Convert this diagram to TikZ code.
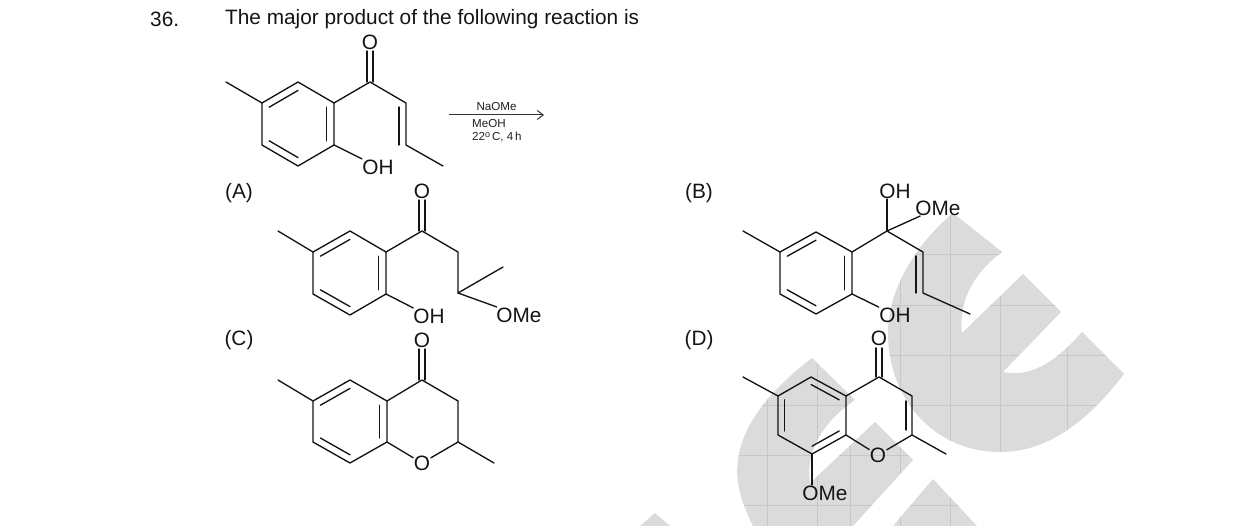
\documentclass[tikz,border=0pt]{standalone}
\usepackage{fontspec}
\setmainfont{Liberation Sans}
\usetikzlibrary{calc,arrows.meta}
\newcommand{\inbond}[3]{\draw[bondline] ($(#1)!.2!(#3)$) -- ($(#2)!.2!(#3)$);}
\newcommand{\wmpaths}{
  (953,213) -- (1002,252) .. controls (975,272) and (958,300) .. (962,333)
  -- (1023,274) -- (1061,312) -- (1003,372) .. controls (1033,378) and (1057,360) .. (1082,332)
  -- (1124,374) .. controls (1085,425) and (1045,452) .. (1000,452)
  .. controls (935,452) and (888,400) .. (888,333)
  .. controls (888,290) and (915,245) .. (953,213) -- cycle
  (812,358) -- (855,400) .. controls (825,420) and (805,450) .. (810,483)
  -- (875,422) -- (913,460) -- (853,526) -- (893,526) -- (933,479) -- (977,526) -- (753,526)
  .. controls (740,500) and (735,480) .. (738,460)
  .. controls (742,425) and (770,390) .. (812,358) -- cycle
  (655,513) -- (670,526) -- (640,526) -- cycle
}
\tikzset{
  x=1pt,y=-1pt,
  bondline/.style={line width=1.35pt,black!92,line cap=round,line join=round},
  atom/.style={inner sep=0.5pt,yshift=-1pt,font=\fontsize{20.8}{22}\selectfont,text=black!92},
  qtext/.style={inner sep=0pt,yshift=-1pt,font=\fontsize{20.8}{24}\selectfont,text=black!92},
  smalltext/.style={inner sep=0pt,yshift=-0.5pt,font=\fontsize{11.6}{13}\selectfont,text=black!88},
  gridline/.style={line width=1pt,black!22},
  wmfill/.style={fill=black!14,draw=none},
  >={Straight Barb[length=6pt,width=9pt]}
}
\begin{document}
\begin{tikzpicture}
\useasboundingbox (0,0) rectangle (1238,526);
% watermark
\fill[wmfill] \wmpaths;
\begin{scope}
\clip \wmpaths;
\foreach \gx in {767,817,850,900,950,1000,1067}{\draw[gridline] (\gx,200) -- (\gx,526);}
\foreach \gy in {255,305,355,405,455,505}{\draw[gridline] (640,\gy) -- (1130,\gy);}
\end{scope}
% heading
\node[qtext,anchor=west] (num) at (150,18) {36.};
\node[qtext,anchor=west] (stem) at (225,18) {The major product of the following reaction is};
\node[qtext] (la) at (239,192) {(A)};
\node[qtext] (lb) at (699,192) {(B)};
\node[qtext] (lc) at (239,339) {(C)};
\node[qtext] (ld) at (699,339) {(D)};
% ---------- reactant
\coordinate (rm) at (226,82);
\coordinate (r5) at (262,103);
\coordinate (r4) at (298,82);
\coordinate (r3) at (334,103);
\coordinate (r2) at (334,145);
\coordinate (r1) at (298,166);
\coordinate (r6) at (262,145);
\coordinate (rc) at (298,124);
\coordinate (rk) at (370,82);
\coordinate (rv) at (406,103);
\coordinate (rw) at (406,145);
\coordinate (rz) at (443,166);
\node[atom] (rO) at (370,41) {O};
\node[atom] (rOH) at (378,166) {OH};
\draw[bondline] (r5) -- (r4) -- (r3) -- (r2) -- (r1) -- (r6) -- cycle;
\draw[bondline] (rm) -- (r5);
\draw[bondline] (r3) -- (rk) -- (rv) -- (rw) -- (rz);
\draw[bondline] (r2) -- (rOH);
\inbond{r5}{r4}{rc}\inbond{r3}{r2}{rc}\inbond{r1}{r6}{rc}
\draw[bondline] ($(rk)+(-3,0)$) -- ($(rk)+(-3,-31)$);
\draw[bondline] ($(rk)+(3,0)$) -- ($(rk)+(3,-31)$);
\draw[bondline] ($(rv)+(-7,4)$) -- ($(rw)+(-7,0)$);
% arrow
\coordinate (as) at (449,115);
\coordinate (ae) at (544,115);
\draw[line width=1pt,black!80,->] (as) -- (ae);
\node[smalltext] (t1) at (496.5,106) {NaOMe};
\node[smalltext,anchor=west] (t2) at (472,123) {MeOH};
\node[smalltext,anchor=west] (t3) at (472,137) {22\raisebox{3.5pt}{\fontsize{9}{9}\selectfont o}\,C, 4\,h};
% ---------- A
\coordinate (am) at (278,231);
\coordinate (a5) at (313,252);
\coordinate (a4) at (350,231);
\coordinate (a3) at (386,252);
\coordinate (a2) at (386,294);
\coordinate (a1) at (350,315);
\coordinate (a6) at (313,294);
\coordinate (ac) at (350,273);
\coordinate (ak) at (422,231);
\coordinate (ah) at (458,252);
\coordinate (aq) at (458,293);
\coordinate (az) at (503,267);
\node[atom] (aO) at (422,190) {O};
\node[atom] (aOH) at (429,315) {OH};
\node[atom] (aOMe) at (519,314) {OMe};
\draw[bondline] (a5) -- (a4) -- (a3) -- (a2) -- (a1) -- (a6) -- cycle;
\draw[bondline] (am) -- (a5);
\draw[bondline] (a3) -- (ak) -- (ah) -- (aq) -- (az);
\draw[bondline] (aq) -- (aOMe);
\draw[bondline] (a2) -- (aOH);
\inbond{a5}{a4}{ac}\inbond{a3}{a2}{ac}\inbond{a1}{a6}{ac}
\draw[bondline] ($(ak)+(-3,0)$) -- ($(ak)+(-3,-31)$);
\draw[bondline] ($(ak)+(3,0)$) -- ($(ak)+(3,-31)$);
% ---------- B
\coordinate (bm) at (743,231);
\coordinate (b5) at (780,252);
\coordinate (b4) at (816,232);
\coordinate (b3) at (852,252);
\coordinate (b2) at (852,294);
\coordinate (b1) at (816,314);
\coordinate (b6) at (780,294);
\coordinate (bc) at (816,273);
\coordinate (bk) at (887,231);
\coordinate (bv) at (923,252);
\coordinate (bw) at (923,293);
\coordinate (bz) at (970,314);
\node[atom] (bOH) at (895,190) {OH};
\node[atom] (bOMe) at (938,207) {OMe};
\node[atom] (bOH2) at (895,314) {OH};
\draw[bondline] (b5) -- (b4) -- (b3) -- (b2) -- (b1) -- (b6) -- cycle;
\draw[bondline] (bm) -- (b5);
\draw[bondline] (b3) -- (bk) -- (bv) -- (bw) -- (bz);
\draw[bondline] (bk) -- (bk |- bOH.south);
\draw[bondline] (bk) -- (bOMe);
\draw[bondline] (b2) -- (bOH2);
\inbond{b5}{b4}{bc}\inbond{b3}{b2}{bc}\inbond{b1}{b6}{bc}
\draw[bondline] ($(bv)+(-7,4)$) -- ($(bw)+(-7,0)$);
% ---------- C
\coordinate (cm) at (278,380);
\coordinate (c5) at (313,401);
\coordinate (c4) at (350,380);
\coordinate (c3) at (387,401);
\coordinate (c2) at (387,442);
\coordinate (c1) at (350,463);
\coordinate (c6) at (313,442);
\coordinate (cc) at (350,422);
\coordinate (ck) at (422,380);
\coordinate (ch) at (458,401);
\coordinate (cq) at (458,442);
\coordinate (cz) at (494,463);
\node[atom] (cO) at (422,339) {O};
\node[atom] (cR) at (422,462) {O};
\draw[bondline] (c5) -- (c4) -- (c3) -- (c2) -- (c1) -- (c6) -- cycle;
\draw[bondline] (cm) -- (c5);
\draw[bondline] (c3) -- (ck) -- (ch) -- (cq) -- (cz);
\draw[bondline] (c2) -- (cR);
\draw[bondline] (cq) -- (cR);
\inbond{c5}{c4}{cc}\inbond{c3}{c2}{cc}\inbond{c1}{c6}{cc}
\draw[bondline] ($(ck)+(-3,0)$) -- ($(ck)+(-3,-31)$);
\draw[bondline] ($(ck)+(3,0)$) -- ($(ck)+(3,-31)$);
% ---------- D
\coordinate (dm) at (743,377);
\coordinate (d5) at (778,396);
\coordinate (d4) at (811,377);
\coordinate (d3) at (846,396);
\coordinate (d2) at (846,435);
\coordinate (d1) at (812,454);
\coordinate (d6) at (778,435);
\coordinate (dc) at (812,415);
\coordinate (dk) at (879,377);
\coordinate (dv) at (912,396);
\coordinate (dw) at (912,435);
\coordinate (dz) at (946,454);
\node[atom] (dO) at (879,337) {O};
\node[atom] (dR) at (878,454) {O};
\node[atom] (dOMe) at (825,492) {OMe};
\draw[bondline] (d5) -- (d4) -- (d3) -- (d2) -- (d1) -- (d6) -- cycle;
\draw[bondline] (dm) -- (d5);
\draw[bondline] (d3) -- (dk) -- (dv) -- (dw) -- (dz);
\draw[bondline] (d2) -- (dR);
\draw[bondline] (dw) -- (dR);
\draw[bondline] (d1) -- (d1 |- dOMe.north);
\inbond{d4}{d3}{dc}\inbond{d5}{d6}{dc}\inbond{d2}{d1}{dc}
\draw[bondline] ($(dk)+(-3,0)$) -- ($(dk)+(-3,-29)$);
\draw[bondline] ($(dk)+(3,0)$) -- ($(dk)+(3,-29)$);
\draw[bondline] ($(dv)+(-6,5)$) -- ($(dw)+(-6,-5)$);
\end{tikzpicture}
\end{document}
